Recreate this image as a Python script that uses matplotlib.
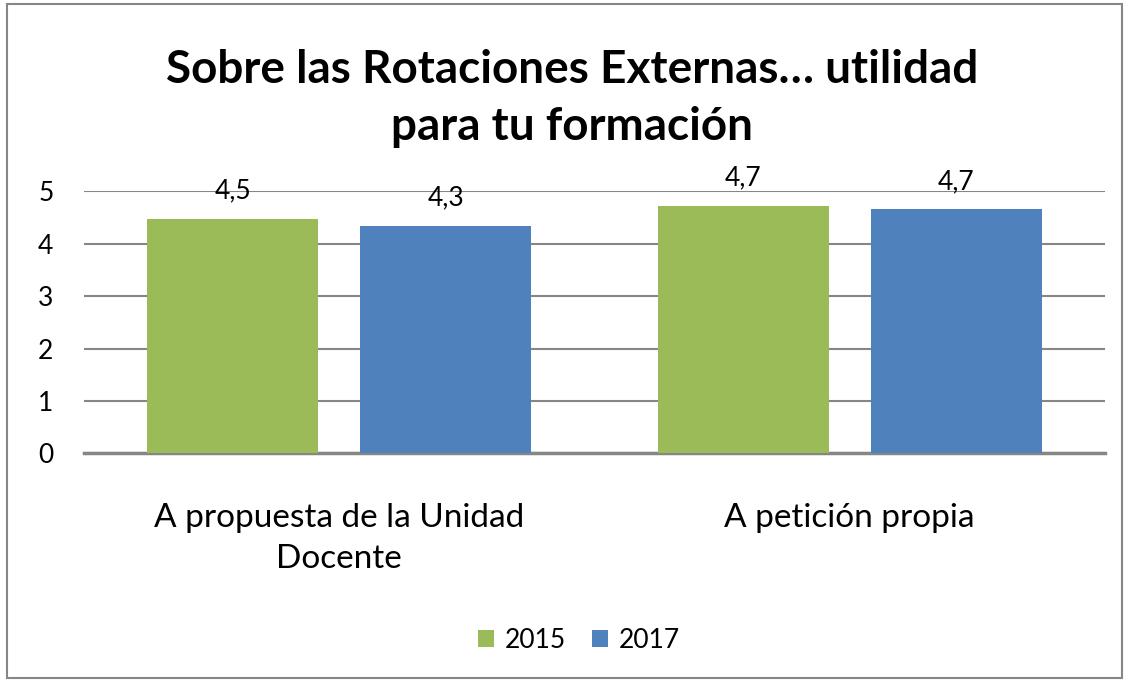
import matplotlib.pyplot as plt
import numpy as np
from matplotlib.patches import Rectangle

plt.rcParams["font.family"] = ["Lato", "DejaVu Sans"]

categories = ["A propuesta de la Unidad\nDocente", "A petición propia"]
series_names = ["2015", "2017"]
values_2015 = [4.48, 4.72]
values_2017 = [4.34, 4.66]
y_ticks = [0, 1, 2, 3, 4, 5]
title = "Sobre las Rotaciones Externas… utilidad\npara tu formación"

colors = ["#9bbb59", "#4f81bd"]

fig = plt.figure(figsize=(11.29, 6.82), dpi=100)
ax = fig.add_axes([0.0744, 0.3353, 0.9043, 0.3842])

x = np.arange(len(categories))
bar_w = 0.335
offset = 0.2085
for i, (vals, name) in enumerate(zip([values_2015, values_2017], series_names)):
    pos = x + (-offset if i == 0 else offset)
    bars = ax.bar(pos, vals, width=bar_w, color=colors[i], label=name, zorder=3)
    for b, v in zip(bars, vals):
        ax.annotate(f"{v:.1f}".replace(".", ","),
                    (b.get_x() + b.get_width() / 2, v),
                    xytext=(0, 11), textcoords="offset points",
                    ha="center", va="bottom", fontsize=19, zorder=4)

ax.set_xlim(-0.5, 1.5)
ax.set_ylim(0, 5)
ax.set_yticks(y_ticks)
ax.set_yticklabels([str(t) for t in y_ticks], fontsize=19)
ax.set_xticks(x)
ax.set_xticklabels(categories, fontsize=24, linespacing=1.45)
ax.tick_params(axis="x", length=0, pad=36)
ax.tick_params(axis="y", length=0, pad=22)
ax.yaxis.grid(True, color="#868686", linewidth=1.5, zorder=0)
for s in ["top", "right", "left"]:
    ax.spines[s].set_visible(False)
ax.spines["bottom"].set_color("#868686")
ax.spines["bottom"].set_linewidth(2.5)
ax.set_facecolor("none")

fig.text(0.507, 0.856, title, ha="center", va="center", fontsize=33,
         fontweight="bold", linespacing=1.45)

fig.legend(loc="center", bbox_to_anchor=(0.513, 0.061), ncol=2, frameon=False,
           fontsize=19, handlelength=0.6, handleheight=0.6, handletextpad=0.4,
           columnspacing=1.0)

fig.patches.append(Rectangle((0.006, 0.006), 0.988, 0.988, transform=fig.transFigure,
                             fill=False, edgecolor="#868686", linewidth=1.5))

fig.savefig("out.png", dpi=100)
